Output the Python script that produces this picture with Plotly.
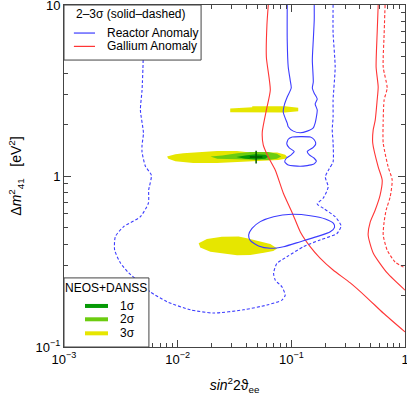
import plotly.graph_objects as go

# ---- data (sin^2 2theta_ee, dm^2_41 [eV^2]) ----
# Gallium anomaly, 2 sigma (solid) - left and right branches
ga2_left_x = [0.0627, 0.061, 0.0603, 0.0653, 0.0603, 0.0555, 0.0566, 0.0627, 0.0723, 0.0849,
              0.102, 0.120, 0.147, 0.179, 0.233, 0.330, 0.464, 0.643, 1.0]
ga2_left_y = [10, 7.64, 4.97, 3.18, 2.43, 1.81, 1.52, 1.29, 1.08, 0.796,
              0.608, 0.471, 0.385, 0.331, 0.282, 0.237, 0.194, 0.158, 0.1225]
ga2_right_x = [0.581, 0.569, 0.557, 0.581, 0.569, 0.547, 0.525, 0.52, 0.581, 0.630,
               0.604, 0.547, 0.494, 0.474, 0.525, 0.697, 1.0]
ga2_right_y = [10, 6.85, 4.34, 3.31, 2.78, 2.12, 1.86, 1.56, 1.13, 0.948,
               0.774, 0.633, 0.538, 0.452, 0.355, 0.271, 0.215]
# Gallium anomaly, 3 sigma (dashed)
ga3_x = [0.668, 0.655, 0.643, 0.697, 0.655, 0.643, 0.643, 0.711, 0.771, 0.740,
         0.683, 0.655, 0.643, 0.697, 0.818, 1.0]
ga3_y = [10, 6.68, 4.34, 3.27, 2.78, 2.12, 1.56, 1.13, 0.948, 0.753,
         0.633, 0.538, 0.452, 0.369, 0.314, 0.290]

# Reactor anomaly, 2 sigma (solid): open band, closed island, closed ellipse
re2_band_x = [0.0920, 0.0920, 0.0939, 0.0977, 0.0998, 0.0920, 0.0867, 0.0849, 0.0883, 0.0920,
              0.0939, 0.104, 0.120, 0.138, 0.156, 0.162, 0.166, 0.169, 0.162, 0.169,
              0.159, 0.153, 0.156, 0.153, 0.156, 0.159, 0.159]
re2_band_y = [10, 6.24, 4.34, 3.64, 3.27, 2.90, 2.60, 2.37, 2.18, 2.04,
              1.94, 1.83, 1.79, 1.83, 1.91, 2.04, 2.21, 2.43, 2.64, 2.82,
              3.05, 3.27, 3.55, 4.77, 6.24, 8.17, 10]
re2_island_x = [0.120, 0.147, 0.159, 0.164, 0.156, 0.138, 0.144, 0.159, 0.166, 0.156, 0.120,
                0.0939, 0.0875, 0.0903, 0.0998, 0.106, 0.0958, 0.0912, 0.0939, 0.102, 0.120]
re2_island_y = [1.70, 1.69, 1.63, 1.54, 1.47, 1.39, 1.33, 1.27, 1.22, 1.17, 1.14,
                1.16, 1.21, 1.27, 1.33, 1.39, 1.46, 1.54, 1.64, 1.69, 1.70]
re2_ellipse_x = [0.0421, 0.0451, 0.0533, 0.0698, 0.101, 0.147, 0.199, 0.235, 0.240, 0.220,
                 0.168, 0.120, 0.0853, 0.0653, 0.0515, 0.0436, 0.0421]
re2_ellipse_y = [0.452, 0.494, 0.541, 0.578, 0.597, 0.586, 0.561, 0.528, 0.501, 0.472,
                 0.442, 0.413, 0.386, 0.378, 0.390, 0.419, 0.452]
# Reactor anomaly, 3 sigma (dashed)
re3_x = [0.00490, 0.00495, 0.00497, 0.00486, 0.00470, 0.00500, 0.00486, 0.00486, 0.00520, 0.00587,
         0.00556, 0.00553, 0.00470, 0.00335, 0.00283, 0.00279, 0.00314, 0.00371, 0.00440, 0.00575,
         0.00807, 0.01294, 0.0207, 0.0380, 0.0611, 0.0826, 0.0883, 0.0826, 0.0723, 0.0698,
         0.0746, 0.0914, 0.128, 0.179, 0.252, 0.274, 0.243, 0.192, 0.169, 0.191,
         0.211, 0.199, 0.215, 0.233, 0.233, 0.229, 0.233, 0.233, 0.243, 0.233, 0.233]
re3_y = [10, 7.14, 4.77, 3.18, 2.43, 1.78, 1.52, 1.38, 1.14, 1.01,
         0.828, 0.695, 0.578, 0.506, 0.442, 0.369, 0.310, 0.271, 0.246, 0.210,
         0.184, 0.165, 0.158, 0.165, 0.176, 0.188, 0.201, 0.225, 0.246, 0.270,
         0.308, 0.337, 0.386, 0.423, 0.461, 0.511, 0.578, 0.647, 0.686, 0.743,
         0.863, 0.987, 1.10, 1.21, 1.56, 1.86, 2.21, 2.78, 4.34, 6.85, 10]

# NEOS+DANSS allowed regions
n3_top_x = [0.0290, 0.0453, 0.0453, 0.0883, 0.115, 0.115, 0.0883, 0.0356, 0.0290]
n3_top_y = [2.48, 2.52, 2.56, 2.56, 2.51, 2.39, 2.35, 2.34, 2.36]
n3_mid_x = [0.00807, 0.00955, 0.0112, 0.0158, 0.0222, 0.0333, 0.0436, 0.0752, 0.0883, 0.0920,
            0.0883, 0.0767, 0.0436, 0.0308, 0.0222, 0.0137, 0.00955, 0.00828]
n3_mid_y = [1.30, 1.34, 1.36, 1.38, 1.40, 1.40, 1.37, 1.37, 1.33, 1.29,
            1.26, 1.24, 1.22, 1.21, 1.19, 1.19, 1.22, 1.26]
n3_low_x = [0.0153, 0.0181, 0.0245, 0.0344, 0.0407, 0.0533, 0.0653, 0.0752, 0.0693, 0.0590,
            0.0436, 0.0333, 0.0250, 0.0194, 0.0158]
n3_low_y = [0.404, 0.428, 0.442, 0.443, 0.433, 0.414, 0.400, 0.377, 0.364, 0.357,
            0.345, 0.344, 0.352, 0.360, 0.382]
n2_x = [0.0194, 0.0247, 0.0335, 0.0436, 0.0625, 0.0746, 0.0815, 0.0746, 0.0625, 0.0436, 0.0308, 0.0223]
n2_y = [1.30, 1.32, 1.36, 1.38, 1.38, 1.35, 1.30, 1.26, 1.24, 1.25, 1.26, 1.26]
n1_x = [0.0328, 0.0394, 0.0482, 0.0590, 0.0627, 0.0590, 0.0482, 0.0394]
n1_y = [1.29, 1.32, 1.34, 1.33, 1.30, 1.26, 1.25, 1.26]
best_fit = (0.049, 1.29)

x_ticks = [0.001, 0.01, 0.1, 1]
x_ticktext = ["10<sup>\u22123</sup>", "10<sup>\u22122</sup>", "10<sup>\u22121</sup>", "1"]
y_ticks = [0.1, 1, 10]
y_ticktext = ["10<sup>\u22121</sup>", "1", "10"]

BLUE = "#3c3cff"
RED = "#ff3535"
C1, C2, C3 = "#069a06", "#6ccc10", "#e6e600"
FONT = "Liberation Sans, Arial, sans-serif"

fig = go.Figure()

# filled NEOS+DANSS regions (drawn first)
for xs, ys, col in [(n3_top_x, n3_top_y, C3), (n3_mid_x, n3_mid_y, C3), (n3_low_x, n3_low_y, C3),
                    (n2_x, n2_y, C2), (n1_x, n1_y, C1)]:
    fig.add_trace(go.Scatter(x=xs + xs[:1], y=ys + ys[:1], mode="lines", fill="toself",
                             fillcolor=col, line=dict(width=0, color=col), hoverinfo="skip"))
fig.add_trace(go.Scatter(x=[best_fit[0]], y=[best_fit[1]], mode="markers",
                         marker=dict(symbol="cross-thin", size=9, line=dict(width=1.5, color="#005a00"))))

# anomaly contours
solid = dict(width=1.1, shape="spline", smoothing=0.6)
dashed = dict(width=1.1, shape="spline", smoothing=0.6, dash="3px,2px")
for xs, ys, col, st in [(ga2_left_x, ga2_left_y, RED, solid), (ga2_right_x, ga2_right_y, RED, solid),
                        (ga3_x, ga3_y, RED, dashed),
                        (re2_band_x, re2_band_y, BLUE, solid), (re2_island_x, re2_island_y, BLUE, solid),
                        (re2_ellipse_x, re2_ellipse_y, BLUE, solid), (re3_x, re3_y, BLUE, dashed)]:
    fig.add_trace(go.Scatter(x=xs, y=ys, mode="lines", line=dict(color=col, **st)))

# legends drawn as boxes in paper coordinates
shapes = [
    dict(type="rect", xref="paper", yref="paper", x0=0, x1=0.402, y0=0.839, y1=1,
         line=dict(color="#444", width=1), fillcolor="white", layer="above"),
    dict(type="line", xref="paper", yref="paper", x0=0.029, x1=0.091, y0=0.918, y1=0.918,
         line=dict(color=BLUE, width=1.2), layer="above"),
    dict(type="line", xref="paper", yref="paper", x0=0.029, x1=0.091, y0=0.879, y1=0.879,
         line=dict(color=RED, width=1.2), layer="above"),
    dict(type="rect", xref="paper", yref="paper", x0=0, x1=0.249, y0=0, y1=0.202,
         line=dict(color="#444", width=1), fillcolor="white", layer="above"),
]
for yy, col in [(0.120, C1), (0.081, C2), (0.040, C3)]:
    shapes.append(dict(type="line", xref="paper", yref="paper", x0=0.0616, x1=0.129, y0=yy, y1=yy,
                       line=dict(color=col, width=4), layer="above"))

ann = dict(xref="paper", yref="paper", showarrow=False, font=dict(size=12, color="black", family=FONT))
annotations = [
    dict(text="2\u20133\u03c3 (solid\u2013dashed)", x=0.194, y=0.975, xanchor="center", yanchor="middle", **ann),
    dict(text="Reactor Anomaly", x=0.120, y=0.918, xanchor="left", yanchor="middle", **ann),
    dict(text="Gallium Anomaly", x=0.120, y=0.879, xanchor="left", yanchor="middle", **ann),
    dict(text="NEOS+DANSS", x=0.123, y=0.173, xanchor="center", yanchor="middle", **ann),
    dict(text="1\u03c3", x=0.158, y=0.120, xanchor="left", yanchor="middle", **ann),
    dict(text="2\u03c3", x=0.158, y=0.081, xanchor="left", yanchor="middle", **ann),
    dict(text="3\u03c3", x=0.158, y=0.040, xanchor="left", yanchor="middle", **ann),
]

minor_x = [m * 10 ** e for e in (-3, -2, -1) for m in range(2, 10)]
minor_y = [m * 10 ** e for e in (-1, 0) for m in range(2, 10)]

axis_common = dict(type="log", showgrid=False, zeroline=False, showline=True, linecolor="#444",
                   linewidth=1, mirror="ticks", ticks="inside", ticklen=7, tickcolor="#444",
                   automargin=False, ticklabeloverflow="allow",
                   tickfont=dict(size=13, color="black", family=FONT))

fig.update_layout(
    width=407, height=400,
    margin=dict(l=64, r=2, t=5, b=53),
    plot_bgcolor="white", paper_bgcolor="white",
    showlegend=False,
    font=dict(family=FONT, color="black"),
    shapes=shapes, annotations=annotations,
    xaxis=dict(range=[-3, 0], tickvals=x_ticks, ticktext=x_ticktext,
               minor=dict(tickvals=minor_x, ticks="inside", ticklen=4, tickcolor="#444"),
               title=dict(text="<i>sin</i><sup>2</sup>2\u03d1<sub>ee</sub>", font=dict(size=14), standoff=14),
               **axis_common),
    yaxis=dict(range=[-1, 1], tickvals=y_ticks, ticktext=y_ticktext,
               minor=dict(tickvals=minor_y, ticks="inside", ticklen=4, tickcolor="#444"),
               title=dict(text="\u0394<i>m</i><sup>2</sup><sub>41</sub>   [eV<sup>2</sup>]", font=dict(size=14),
                          standoff=10),
               **axis_common),
)

# page body has a default 8px margin; drop it so the figure sits at the window corner
fig.write_html("out.html", config={"displayModeBar": False},
               post_script="document.body.style.margin='0px';")
